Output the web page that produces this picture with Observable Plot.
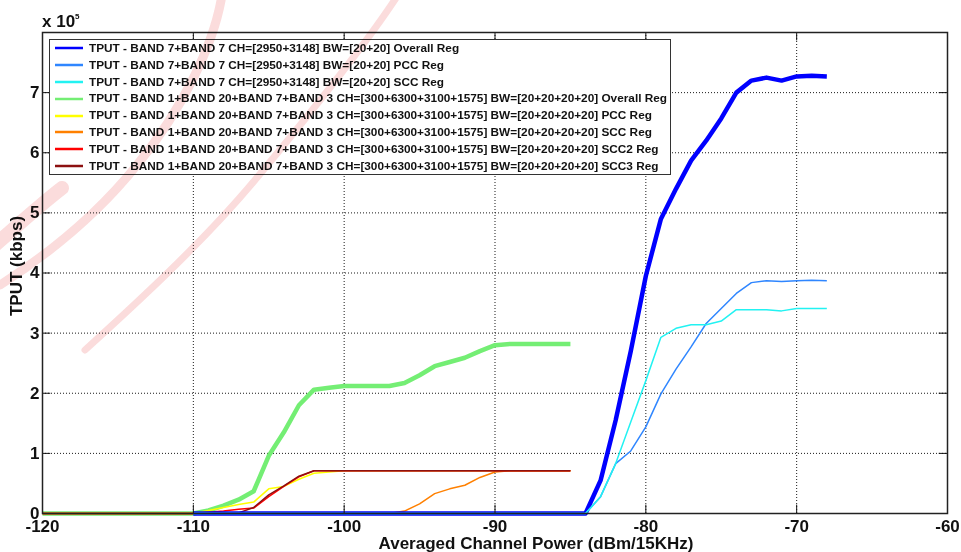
<!DOCTYPE html>
<html>
<head>
<meta charset="utf-8">
<script src="https://cdn.jsdelivr.net/npm/d3@7"></script>
<script src="https://cdn.jsdelivr.net/npm/@observablehq/plot@0.6"></script>
<style>
  html, body { margin: 0; padding: 0; background: #fff; }
  #wrap { position: relative; width: 961px; height: 552px; overflow: hidden; font-family: "Liberation Sans", Arial, sans-serif; font-weight: bold; color: #111; }
  #legend { position: absolute; left: 49px; top: 39px; width: 622px; background: #fff; border: 1px solid #333; box-sizing: border-box; padding: 0; font-size: 11.8px; color: #111; }
  #legend .row { height: 16.8px; line-height: 16.8px; display: flex; align-items: center; white-space: nowrap; }
  #legend svg { margin-left: 5px; margin-right: 6px; flex: none; }
  #exp { position: absolute; left: 42px; top: 12px; font-size: 17px; line-height: 20px; }
  #exp sup { font-size: 8px; position: relative; top: -5px; vertical-align: top; }
  .axlabel { position: absolute; font-size: 17px; white-space: nowrap; line-height: 20px; }
  #xlab { left: 536px; top: 544px; transform: translate(-50%, -50%); }
  #ylab { left: 17px; top: 266px; transform: translate(-50%, -50%) rotate(-90deg); }
  #wm { position: absolute; left: 0; top: 0; pointer-events: none; mix-blend-mode: multiply; }
</style>
</head>
<body>
<div id="wrap"></div>
<script>
// ---- DATA (throughput in units of 10^5 kbps, power in dBm/15KHz) ----
const xTicks = [-120, -110, -100, -90, -80, -70, -60];
const yTicks = [0, 1, 2, 3, 4, 5, 6, 7];

// Band 7 + Band 7 sweep
const xB7 = [-110,-109,-108,-107,-106,-105,-104,-103,-102,-101,-100,-99,-98,-97,-96,-95,-94,-93,-92,-91,-90,-89,-88,-87,-86,-85,-84,
             -83,-82,-81,-80,-79,-78,-77,-76,-75,-74,-73,-72,-71,-70,-69,-68];
const b7Overall = [0,0,0,0,0,0,0,0,0,0,0,0,0,0,0,0,0,0,0,0,0,0,0,0,0,0,0,
                   0.55,1.55,2.7,3.95,4.9,5.4,5.87,6.2,6.57,7.0,7.2,7.25,7.2,7.27,7.28,7.27];
const b7PCC     = [0,0,0,0,0,0,0,0,0,0,0,0,0,0,0,0,0,0,0,0,0,0,0,0,0,0,0,
                   0.28,0.83,1.04,1.44,1.99,2.4,2.77,3.16,3.41,3.66,3.84,3.87,3.86,3.87,3.88,3.87];
const b7SCC     = [0,0,0,0,0,0,0,0,0,0,0,0,0,0,0,0,0,0,0,0,0,0,0,0,0,0,0,
                   0.28,0.83,1.52,2.21,2.93,3.08,3.14,3.14,3.2,3.39,3.39,3.39,3.37,3.41,3.41,3.41];

// Band 1 + Band 20 + Band 7 + Band 3 sweep
const xB4 = [-120,-119,-118,-117,-116,-115,-114,-113,-112,-111,-110,-109,-108,-107,-106,-105,-104,-103,-102,-101,-100,
             -99,-98,-97,-96,-95,-94,-93,-92,-91,-90,-89,-88,-87,-86,-85];
const b4Overall = [0,0,0,0,0,0,0,0,0,0,0,0.05,0.13,0.23,0.37,0.96,1.35,1.8,2.06,2.09,2.12,
                   2.12,2.12,2.12,2.17,2.3,2.45,2.52,2.59,2.7,2.8,2.82,2.82,2.82,2.82,2.82];
const b4PCC     = [0,0,0,0,0,0,0,0,0,0,0,0.05,0.1,0.15,0.19,0.41,0.45,0.57,0.67,0.69,0.71,
                   0.71,0.71,0.71,0.71,0.71,0.71,0.71,0.71,0.71,0.71,0.71,0.71,0.71,0.71,0.71];
const b4SCC     = [0,0,0,0,0,0,0,0,0,0,0,0,0,0,0,0,0,0,0,0,0,
                   0,0,0,0.04,0.16,0.33,0.41,0.47,0.6,0.69,0.71,0.71,0.71,0.71,0.71];
const b4SCC2    = [0,0,0,0,0,0,0,0,0,0,0,0.02,0.04,0.07,0.09,0.28,0.45,0.61,0.71,0.71,0.71,
                   0.71,0.71,0.71,0.71,0.71,0.71,0.71,0.71,0.71,0.71,0.71,0.71,0.71,0.71,0.71];
const b4SCC3    = [0,0,0,0,0,0,0,0,0,0,0,0,0,0.01,0.1,0.31,0.46,0.62,0.71,0.71,0.71,
                   0.71,0.71,0.71,0.71,0.71,0.71,0.71,0.71,0.71,0.71,0.71,0.71,0.71,0.71,0.71];

const seriesNames = [
  "TPUT - BAND 7+BAND 7 CH=[2950+3148] BW=[20+20] Overall Reg",
  "TPUT - BAND 7+BAND 7 CH=[2950+3148] BW=[20+20] PCC Reg",
  "TPUT - BAND 7+BAND 7 CH=[2950+3148] BW=[20+20] SCC Reg",
  "TPUT - BAND 1+BAND 20+BAND 7+BAND 3 CH=[300+6300+3100+1575] BW=[20+20+20+20] Overall Reg",
  "TPUT - BAND 1+BAND 20+BAND 7+BAND 3 CH=[300+6300+3100+1575] BW=[20+20+20+20] PCC Reg",
  "TPUT - BAND 1+BAND 20+BAND 7+BAND 3 CH=[300+6300+3100+1575] BW=[20+20+20+20] SCC Reg",
  "TPUT - BAND 1+BAND 20+BAND 7+BAND 3 CH=[300+6300+3100+1575] BW=[20+20+20+20] SCC2 Reg",
  "TPUT - BAND 1+BAND 20+BAND 7+BAND 3 CH=[300+6300+3100+1575] BW=[20+20+20+20] SCC3 Reg"
];
const seriesColors = ["#0000ff", "#2f86ff", "#22f2f2", "#74ee74", "#ffff00", "#ff8000", "#ff0000", "#8c1010"];
const seriesWidths = [4.5, 1.5, 1.5, 4.5, 1.5, 1.5, 1.5, 1.5];
const seriesX = [xB7, xB7, xB7, xB4, xB4, xB4, xB4, xB4];
const seriesY = [b7Overall, b7PCC, b7SCC, b4Overall, b4PCC, b4SCC, b4SCC2, b4SCC3];
const drawOrder = [3, 4, 5, 6, 7, 0, 1, 2];

const xLabel = "Averaged Channel Power (dBm/15KHz)";
const yLabel = "TPUT (kbps)";

// ---- build ----
const rows = seriesNames.map((name, i) => seriesX[i].map((x, j) => ({ s: i, x, y: seriesY[i][j] })));

const lineMarks = drawOrder.map(i => Plot.line(rows[i], {
  x: "x", y: "y", stroke: seriesColors[i], strokeWidth: seriesWidths[i], strokeLinejoin: "round", strokeLinecap: "butt"
}));

const gridStyle = { stroke: "#000", strokeOpacity: 0.9, strokeWidth: 1, strokeDasharray: "1,2" };
const innerX = xTicks.slice(1, -1);
const innerY = yTicks.slice(1);
const tickLenX = 0.14;   // in y units (~8px)
const tickLenY = 0.55;   // in x units (~8px)
const fmt = d => String(d);

const chart = Plot.plot({
  width: 961,
  height: 552,
  marginLeft: 42,
  marginRight: 14,
  marginTop: 32,
  marginBottom: 39,
  style: { fontFamily: "'Liberation Sans', Arial, sans-serif", fontSize: "17px", fontWeight: "bold", color: "#111", background: "transparent" },
  x: { domain: [-120, -60], ticks: xTicks },
  y: { domain: [0, 8], ticks: yTicks },
  marks: [
    Plot.ruleX(innerX, { x: d => d, ...gridStyle }),
    Plot.ruleY(innerY, { y: d => d, ...gridStyle }),
    ...lineMarks,
    Plot.ruleX(xTicks, { x: d => d, y1: 0, y2: tickLenX, stroke: "#111" }),
    Plot.ruleX(xTicks, { x: d => d, y1: 8, y2: 8 - tickLenX, stroke: "#111" }),
    Plot.ruleY(yTicks, { y: d => d, x1: -120, x2: -120 + tickLenY, stroke: "#111" }),
    Plot.ruleY(yTicks, { y: d => d, x1: -60, x2: -60 - tickLenY, stroke: "#111" }),
    Plot.frame({ stroke: "#222", strokeWidth: 1.5 }),
    Plot.axisX(xTicks, { tickSize: 0, tickPadding: 6, label: null, tickFormat: fmt, fontSize: 17, fontWeight: "bold" }),
    Plot.axisY(yTicks, { tickSize: 0, tickPadding: 3, label: null, tickFormat: fmt, fontSize: 17, fontWeight: "bold" })
  ]
});

const wrap = document.getElementById("wrap");
wrap.appendChild(chart);

// axis labels
const xl = document.createElement("div");
xl.className = "axlabel"; xl.id = "xlab"; xl.textContent = xLabel;
wrap.appendChild(xl);
const yl = document.createElement("div");
yl.className = "axlabel"; yl.id = "ylab"; yl.textContent = yLabel;
wrap.appendChild(yl);

// exponent label
const exp = document.createElement("div");
exp.id = "exp";
exp.innerHTML = "x 10<sup>5</sup>";
wrap.appendChild(exp);

// legend
const legend = document.createElement("div");
legend.id = "legend";
seriesNames.forEach((name, i) => {
  const row = document.createElement("div");
  row.className = "row";
  row.innerHTML = `<svg width="28" height="6"><line x1="0" x2="28" y1="3" y2="3" stroke="${seriesColors[i]}" stroke-width="2.5"/></svg><span>${name}</span>`;
  legend.appendChild(row);
});
wrap.appendChild(legend);

// faint watermark overlay (decorative)
const ns = "http://www.w3.org/2000/svg";
const wm = document.createElementNS(ns, "svg");
wm.setAttribute("id", "wm");
wm.setAttribute("width", 961);
wm.setAttribute("height", 552);
wm.innerHTML = `
  <g fill="none" stroke="#f4a8a8" stroke-linecap="round" opacity="0.4">
    <path d="M398,-5 C362,50 305,120 255,180 C205,240 140,300 85,350" stroke-width="7"/>
    <path d="M222,-5 C214,45 182,110 137,165 C97,215 47,255 0,285" stroke-width="9"/>
    <path d="M-5,245 C18,225 40,205 62,188" stroke-width="14"/>
  </g>`;
wrap.appendChild(wm);
</script>
</body>
</html>
